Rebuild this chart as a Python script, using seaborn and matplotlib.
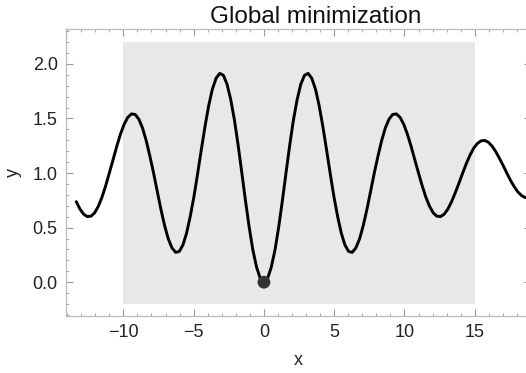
import numpy as np
import pandas as pd
import seaborn as sns
import matplotlib.pyplot as plt
from matplotlib.ticker import MultipleLocator

x_vals = [-13.35, -13.09, -12.83, -12.57, -12.30, -12.04, -11.78, -11.52, -11.26, -11.00,
          -10.73, -10.47, -10.21, -9.95, -9.69, -9.42, -9.16, -8.90, -8.64, -8.38,
          -8.12, -7.85, -7.59, -7.33, -7.07, -6.81, -6.54, -6.28, -6.02, -5.76,
          -5.50, -5.24, -4.97, -4.71, -4.45, -4.19, -3.93, -3.67, -3.40, -3.14,
          -2.88, -2.62, -2.36, -2.09, -1.83, -1.57, -1.31, -1.05, -0.79, -0.52,
          -0.26, 0.00, 0.26, 0.52, 0.79, 1.05, 1.31, 1.57, 1.83, 2.09,
          2.36, 2.62, 2.88, 3.14, 3.40, 3.67, 3.93, 4.19, 4.45, 4.71,
          4.97, 5.24, 5.50, 5.76, 6.02, 6.28, 6.54, 6.81, 7.07, 7.33,
          7.59, 7.85, 8.12, 8.38, 8.64, 8.90, 9.16, 9.42, 9.69, 9.95,
          10.21, 10.47, 10.73, 11.00, 11.26, 11.52, 11.78, 12.04, 12.30, 12.57,
          12.83, 13.09, 13.35, 13.61, 13.88, 14.14, 14.40, 14.66, 14.92, 15.18,
          15.45, 15.71, 15.97, 16.23, 16.49, 16.75, 17.02, 17.28, 17.54, 17.80,
          18.06, 18.33, 18.59]
y_vals = [0.738, 0.671, 0.624, 0.601, 0.605, 0.636, 0.696, 0.779, 0.883, 1.000,
          1.123, 1.245, 1.355, 1.446, 1.510, 1.542, 1.537, 1.494, 1.414, 1.300,
          1.159, 1.000, 0.833, 0.669, 0.521, 0.399, 0.314, 0.273, 0.282, 0.342,
          0.451, 0.604, 0.791, 1.000, 1.218, 1.428, 1.617, 1.768, 1.870, 1.914,
          1.895, 1.813, 1.672, 1.480, 1.251, 1.000, 0.745, 0.505, 0.297, 0.136,
          0.035, 0.000, 0.035, 0.136, 0.297, 0.505, 0.745, 1.000, 1.251, 1.480,
          1.672, 1.813, 1.895, 1.914, 1.870, 1.768, 1.617, 1.428, 1.218, 1.000,
          0.791, 0.604, 0.451, 0.342, 0.282, 0.273, 0.314, 0.399, 0.521, 0.669,
          0.833, 1.000, 1.159, 1.300, 1.414, 1.494, 1.537, 1.542, 1.510, 1.446,
          1.355, 1.245, 1.123, 1.000, 0.883, 0.779, 0.696, 0.636, 0.605, 0.601,
          0.624, 0.671, 0.738, 0.819, 0.909, 1.000, 1.087, 1.164, 1.227, 1.271,
          1.295, 1.299, 1.282, 1.247, 1.197, 1.136, 1.069, 1.000, 0.934, 0.876,
          0.828, 0.794, 0.775]

# minimum found
min_x = [0.0]
min_y = [0.0]

# search region
region_x = [-10, 15]
region_y = [-0.2, 2.2]

x_ticks = [-10, -5, 0, 5, 10, 15]
y_ticks = [0.0, 0.5, 1.0, 1.5, 2.0]

sns.set_style("white")
plt.rcParams["font.family"] = ["Liberation Sans", "DejaVu Sans"]

fig = plt.figure(figsize=(5.26, 3.73), dpi=100)
ax = fig.add_axes([0.1255, 0.1528, 0.884, 0.7694])

ax.fill_between(region_x, region_y[0], region_y[1], color="#e8e8e8", lw=0, zorder=0)

curve = pd.DataFrame({"x": x_vals, "y": y_vals})
sns.lineplot(data=curve, x="x", y="y", color="black", lw=2.1, sort=False, ax=ax, zorder=2)
sns.scatterplot(x=min_x, y=min_y, color="#333333", s=85, edgecolor="none", ax=ax, zorder=3)

ax.set_xlim(-14.08, 19.0)
ax.set_ylim(-0.31, 2.32)
ax.set_xticks(x_ticks)
ax.set_yticks(y_ticks)
ax.set_xticklabels(["\u221210", "\u22125", "0", "5", "10", "15"])
ax.set_yticklabels(["0.0", "0.5", "1.0", "1.5", "2.0"])
ax.xaxis.set_minor_locator(MultipleLocator(1))
ax.yaxis.set_minor_locator(MultipleLocator(0.1))
ax.tick_params(which="both", direction="in", bottom=True, left=True, top=True, right=True,
               color="#999999", labelsize=13, labelcolor="#222222", pad=6)
ax.tick_params(which="major", length=5, width=0.8)
ax.tick_params(which="minor", length=2.5, width=0.6)
for sp in ax.spines.values():
    sp.set_color("#bbbbbb")
    sp.set_linewidth(0.9)

ax.set_xlabel("x", fontsize=13, color="#222222", labelpad=8)
ax.set_ylabel("y", fontsize=13, color="#222222", labelpad=8)
ax.set_title("Global minimization", fontsize=17.5, color="#111111", pad=4, x=0.538)

fig.savefig("out.png", dpi=100)
